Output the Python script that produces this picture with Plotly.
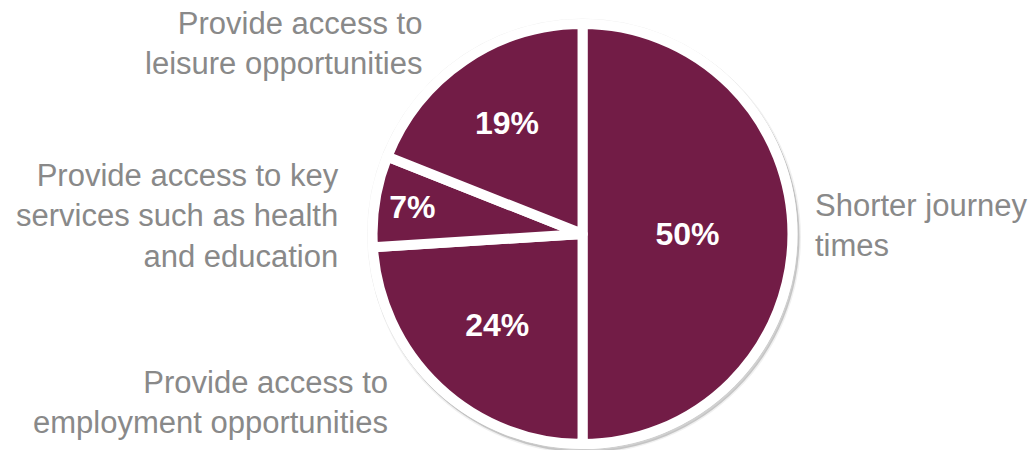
import plotly.graph_objects as go

# slices in clockwise order starting at 12 o'clock
labels = [
    "Shorter journey<br>times",
    "Provide access to<br>employment opportunities",
    "Provide access to key<br>services such as health<br>and education",
    "Provide access to<br>leisure opportunities",
]
values = [50, 24, 7, 19]

MAROON = "#721c46"
GREY = "#898989"
FONT = "Arial"

fig = go.Figure(
    go.Pie(
        labels=labels,
        values=values,
        sort=False,
        direction="clockwise",
        rotation=0,
        textinfo="percent",
        texttemplate="%{percent:.0%}",
        textposition="inside",
        insidetextorientation="horizontal",
        insidetextfont=dict(color="white", size=32, family=FONT, weight="bold"),
        marker=dict(colors=[MAROON] * 4, line=dict(color="white", width=10)),
        domain=dict(x=[0.3596, 0.7650], y=[0.0133, 0.9467]),
        showlegend=False,
        hoverinfo="label+percent",
    )
)

# soft drop shadow, then white rim behind the pie
fig.add_shape(
    type="circle", xref="paper", yref="paper",
    x0=0.3547 + 2 / 1036, x1=0.7698 + 2 / 1036,
    y0=0.0022 - 3 / 450, y1=0.9578 - 3 / 450,
    fillcolor="rgba(0,0,0,0.18)", line=dict(color="rgba(0,0,0,0.06)", width=3),
    layer="below",
)
fig.add_shape(
    type="circle", xref="paper", yref="paper",
    x0=0.3547, x1=0.7698, y0=0.0022, y1=0.9578,
    fillcolor="white", line=dict(color="rgba(0,0,0,0.06)", width=1),
    layer="below",
)

# outside labels
label_pos = [
    (813 / 1036, 0.499, "left"),
    (390 / 1036, 0.106, "right"),
    (341 / 1036, 0.52, "right"),
    (424 / 1036, 0.903, "right"),
]
for text, (x, y, anchor) in zip(labels, label_pos):
    fig.add_annotation(
        x=x, y=y, xref="paper", yref="paper",
        text=text, showarrow=False,
        xanchor=anchor, yanchor="middle", align=anchor,
        font=dict(color=GREY, size=31, family=FONT),
    )

fig.update_layout(
    width=1036, height=450,
    margin=dict(l=0, r=0, t=0, b=0),
    paper_bgcolor="white",
    plot_bgcolor="white",
)

fig.write_html(
    "out.html",
    config={"displayModeBar": False},
    post_script="document.body.style.margin='0';",
)
